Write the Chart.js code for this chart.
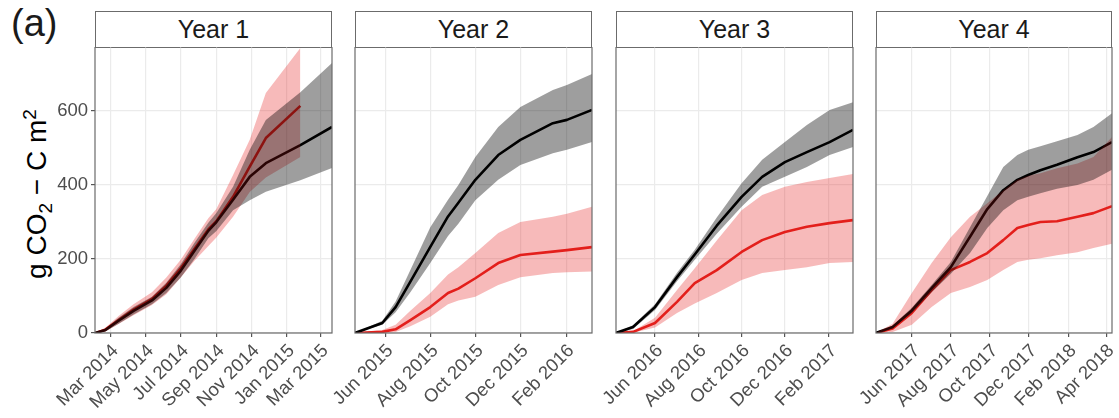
<!DOCTYPE html>
<html>
<head>
<meta charset="utf-8">
<script src="https://cdn.jsdelivr.net/npm/chart.js@4.4.0/dist/chart.umd.min.js"></script>
<style>
  html, body { margin: 0; padding: 0; background: #fff; }
  body { width: 1119px; height: 418px; position: relative; overflow: hidden;
         font-family: "Liberation Sans", Arial, sans-serif; }
  .panel { position: absolute; top: 47px; height: 371px; }
  .panel canvas { display: block; }
  .strip { position: absolute; top: 11px; height: 37px; box-sizing: border-box;
           border: 1px solid #6b6b6b; background: #fff; font-size: 25px; color: #1a1a1a;
           text-align: center; line-height: 35px; }
  #tag { position: absolute; left: 11px; top: 2px; font-size: 38px; color: #1a1a1a; }
  #ytitle { position: absolute; left: 37px; top: 194px; white-space: nowrap; font-size: 28px;
            color: #000; transform: translate(-50%, -50%) rotate(-90deg); line-height: 32px; }
  #ytitle sub, #ytitle sup { font-size: 0.68em; line-height: 0; }
  #ytitle sub { vertical-align: -0.3em; }
</style>
</head>
<body>
<div id="tag">(a)</div>
<div id="ytitle">g CO<sub>2</sub> − C m<sup>2</sup></div>
<script>
// ---- Year 1 ----
const y1Dates = ['2014-02-02','2014-02-20','2014-03-15','2014-04-10','2014-05-12','2014-06-06','2014-07-01','2014-07-25','2014-08-18','2014-09-01','2014-09-30','2014-10-29','2014-11-26','2015-01-25','2015-03-21'];
const y1BlackMean = [0, 8, 33, 60, 88, 122, 168, 222, 276, 300, 360, 422, 459, 508, 557];
const y1BlackLo   = [0, 4, 25, 50, 78, 108, 150, 200, 256, 276, 332, 359, 382, 413, 446];
const y1BlackHi   = [0, 12, 41, 70, 98, 136, 186, 244, 298, 324, 395, 495, 576, 651, 730];
const y1RedMean   = [0, 9, 35, 63, 92, 128, 175, 228, 280, 302, 368, 450, 527, 614];
const y1RedLo     = [0, 4, 24, 48, 76, 105, 150, 195, 235, 258, 314, 381, 420, 476];
const y1RedHi     = [0, 14, 46, 78, 110, 150, 198, 255, 310, 335, 427, 522, 649, 770];
const y1Ticks = ['Mar 2014','May 2014','Jul 2014','Sep 2014','Nov 2014','Jan 2015','Mar 2015'];

// ---- Year 2 ----
const y2Dates = ['2015-04-21','2015-05-28','2015-06-15','2015-07-05','2015-08-01','2015-08-25','2015-09-08','2015-10-01','2015-11-01','2015-12-01','2016-01-14','2016-02-02','2016-03-07'];
const y2BlackMean = [0, 27, 70, 139, 233, 315, 352, 414, 481, 522, 567, 576, 603];
const y2BlackLo   = [0, 22, 56, 110, 189, 262, 295, 359, 414, 454, 486, 495, 516];
const y2BlackHi   = [0, 33, 85, 170, 286, 360, 400, 476, 557, 611, 657, 670, 700];
const y2RedMean   = [0, 3, 10, 35, 70, 108, 120, 148, 189, 211, 220, 224, 232];
const y2RedLo     = [0, 0, 3, 18, 44, 78, 88, 98, 130, 151, 162, 164, 166];
const y2RedHi     = [0, 8, 22, 60, 108, 158, 178, 216, 270, 300, 314, 322, 341];
const y2Ticks = ['Jun 2015','Aug 2015','Oct 2015','Dec 2015','Feb 2016'];

// ---- Year 3 ----
const y3Dates = ['2016-04-07','2016-05-01','2016-06-01','2016-07-02','2016-07-27','2016-08-27','2016-10-01','2016-10-30','2016-12-01','2017-01-01','2017-02-02','2017-03-07'];
const y3BlackMean = [0, 16, 70, 151, 212, 290, 368, 422, 462, 489, 516, 549];
const y3BlackLo   = [0, 11, 62, 140, 198, 268, 341, 395, 422, 449, 481, 503];
const y3BlackHi   = [0, 21, 78, 163, 225, 312, 405, 468, 516, 562, 603, 624];
const y3RedMean   = [0, 3, 27, 84, 135, 170, 219, 251, 273, 287, 297, 305];
const y3RedLo     = [0, 1, 15, 54, 80, 108, 143, 162, 170, 178, 189, 192];
const y3RedHi     = [0, 5, 41, 116, 175, 250, 332, 373, 395, 408, 419, 430];
const y3Ticks = ['Jun 2016','Aug 2016','Oct 2016','Dec 2016','Feb 2017'];

// ---- Year 4 ----
const y4Dates = ['2017-04-06','2017-05-02','2017-06-01','2017-07-02','2017-08-01','2017-08-31','2017-09-27','2017-10-22','2017-11-13','2017-11-30','2017-12-19','2018-01-14','2018-02-15','2018-03-12','2018-04-10'];
const y4BlackMean = [0, 16, 61, 121, 178, 260, 335, 386, 414, 427, 440, 455, 475, 489, 516];
const y4BlackLo   = [0, 12, 54, 110, 160, 216, 284, 332, 359, 368, 378, 390, 400, 414, 441];
const y4BlackHi   = [0, 20, 68, 130, 192, 286, 370, 449, 481, 495, 505, 518, 535, 557, 594];
const y4RedMean   = [0, 12, 54, 116, 170, 192, 216, 251, 284, 292, 300, 302, 314, 324, 343];
const y4RedLo     = [0, 3, 22, 70, 108, 124, 143, 170, 192, 198, 202, 210, 218, 230, 241];
const y4RedHi     = [0, 25, 108, 189, 259, 314, 351, 386, 414, 425, 432, 445, 458, 476, 530];
const y4Ticks = ['Jun 2017','Aug 2017','Oct 2017','Dec 2017','Feb 2018','Apr 2018'];

const yTickValues = [0, 200, 400, 600];
const yMax = 773;

const MONTHS = ['Jan','Feb','Mar','Apr','May','Jun','Jul','Aug','Sep','Oct','Nov','Dec'];
function dayValue(s) { const [y, m, d] = s.split('-').map(Number); return Date.UTC(y, m - 1, d); }
function tickValue(lbl) { const [m, y] = lbl.split(' '); return Date.UTC(+y, MONTHS.indexOf(m), 1); }
function points(dates, vals) { return vals.map((v, i) => ({ x: dayValue(dates[i]), y: v })); }

const FONT = '"Liberation Sans", Arial, sans-serif';
const panels = [
  { title: 'Year 1', left: 95,  right: 332, min: '2014-02-02', max: '2015-03-21', dates: y1Dates, ticks: y1Ticks,
    bm: y1BlackMean, bl: y1BlackLo, bh: y1BlackHi, rm: y1RedMean, rl: y1RedLo, rh: y1RedHi },
  { title: 'Year 2', left: 355, right: 592, min: '2015-04-21', max: '2016-03-07', dates: y2Dates, ticks: y2Ticks,
    bm: y2BlackMean, bl: y2BlackLo, bh: y2BlackHi, rm: y2RedMean, rl: y2RedLo, rh: y2RedHi },
  { title: 'Year 3', left: 616, right: 853, min: '2016-04-07', max: '2017-03-07', dates: y3Dates, ticks: y3Ticks,
    bm: y3BlackMean, bl: y3BlackLo, bh: y3BlackHi, rm: y3RedMean, rl: y3RedLo, rh: y3RedHi },
  { title: 'Year 4', left: 876, right: 1112, min: '2017-04-06', max: '2018-04-10', dates: y4Dates, ticks: y4Ticks,
    bm: y4BlackMean, bl: y4BlackLo, bh: y4BlackHi, rm: y4RedMean, rl: y4RedLo, rh: y4RedHi }
];

// panel outline drawn over the data, like a facet frame
const frame = {
  id: 'frame',
  afterDatasetsDraw(chart) {
    const a = chart.chartArea, g = chart.ctx;
    g.save();
    g.strokeStyle = '#6b6b6b';
    g.lineWidth = 1.2;
    g.strokeRect(a.left, a.top, a.right - a.left, a.bottom - a.top);
    g.restore();
  }
};

const AXIS_W = 60, AXIS_H = 85, PAD_R = 10;

panels.forEach((p, idx) => {
  const strip = document.createElement('div');
  strip.className = 'strip';
  strip.style.left = p.left + 'px';
  strip.style.width = (p.right - p.left) + 'px';
  strip.textContent = p.title;
  document.body.appendChild(strip);

  const wrap = document.createElement('div');
  wrap.className = 'panel';
  const w = p.right - p.left + AXIS_W + PAD_R;
  wrap.style.left = (p.left - AXIS_W) + 'px';
  wrap.style.width = w + 'px';
  const cv = document.createElement('canvas');
  cv.width = w; cv.height = 371;
  cv.style.width = w + 'px'; cv.style.height = '371px';
  wrap.appendChild(cv);
  document.body.appendChild(wrap);

  const ribbon = (hi, lo, color, order) => ([
    { data: points(p.dates, hi), borderWidth: 0, borderColor: 'transparent', pointRadius: 0,
      fill: '+1', backgroundColor: color, order: order },
    { data: points(p.dates, lo), borderWidth: 0, borderColor: 'transparent', pointRadius: 0,
      fill: false, order: order }
  ]);

  const datasets = [
    ...ribbon(p.bh, p.bl, 'rgba(0,0,0,0.38)', 1),
    ...ribbon(p.rh, p.rl, 'rgba(228,26,28,0.30)', 2),
    { data: points(p.dates, p.bm), borderColor: '#000000', borderWidth: 2.6, pointRadius: 0,
      fill: false, order: 3, borderJoinStyle: 'round', borderCapStyle: 'butt' },
    { data: points(p.dates, p.rm), borderColor: '#E3211C', borderWidth: 2.6, pointRadius: 0,
      fill: false, order: 4, borderJoinStyle: 'round', borderCapStyle: 'butt' }
  ];

  const tickVals = p.ticks.map(tickValue);
  const showY = idx === 0;

  new Chart(cv.getContext('2d'), {
    type: 'line',
    data: { datasets },
    options: {
      animation: false,
      responsive: false,
      devicePixelRatio: 1,
      layout: { padding: { left: 0, top: 0, right: PAD_R, bottom: 0 } },
      plugins: { legend: { display: false }, tooltip: { enabled: false } },
      elements: { line: { tension: 0 } },
      scales: {
        x: {
          type: 'linear',
          min: dayValue(p.min),
          max: dayValue(p.max),
          afterBuildTicks: s => { s.ticks = tickVals.map(v => ({ value: v })); },
          afterFit: s => { s.height = AXIS_H; s.paddingLeft = 0; s.paddingRight = 0; },
          border: { display: false },
          grid: { color: '#ebebeb', lineWidth: 1.2, drawTicks: true, tickLength: 4, tickColor: '#555' },
          ticks: {
            autoSkip: false, minRotation: 45, maxRotation: 45, padding: 3, labelOffset: 5,
            color: '#4d4d4d', font: { family: FONT, size: 18.5 },
            callback: (v, i) => p.ticks[i]
          }
        },
        y: {
          type: 'linear',
          min: 0,
          max: yMax,
          afterBuildTicks: s => { s.ticks = yTickValues.map(v => ({ value: v })); },
          afterFit: s => { s.width = AXIS_W; s.paddingTop = 0; s.paddingBottom = 0; },
          border: { display: false },
          grid: { color: '#ebebeb', lineWidth: 1.2, drawTicks: showY, tickLength: 4, tickColor: '#555' },
          ticks: {
            display: showY, padding: 3,
            color: '#4d4d4d', font: { family: FONT, size: 18.5 },
            callback: v => String(v)
          }
        }
      }
    },
    plugins: [frame]
  });
});
</script>
</body>
</html>
